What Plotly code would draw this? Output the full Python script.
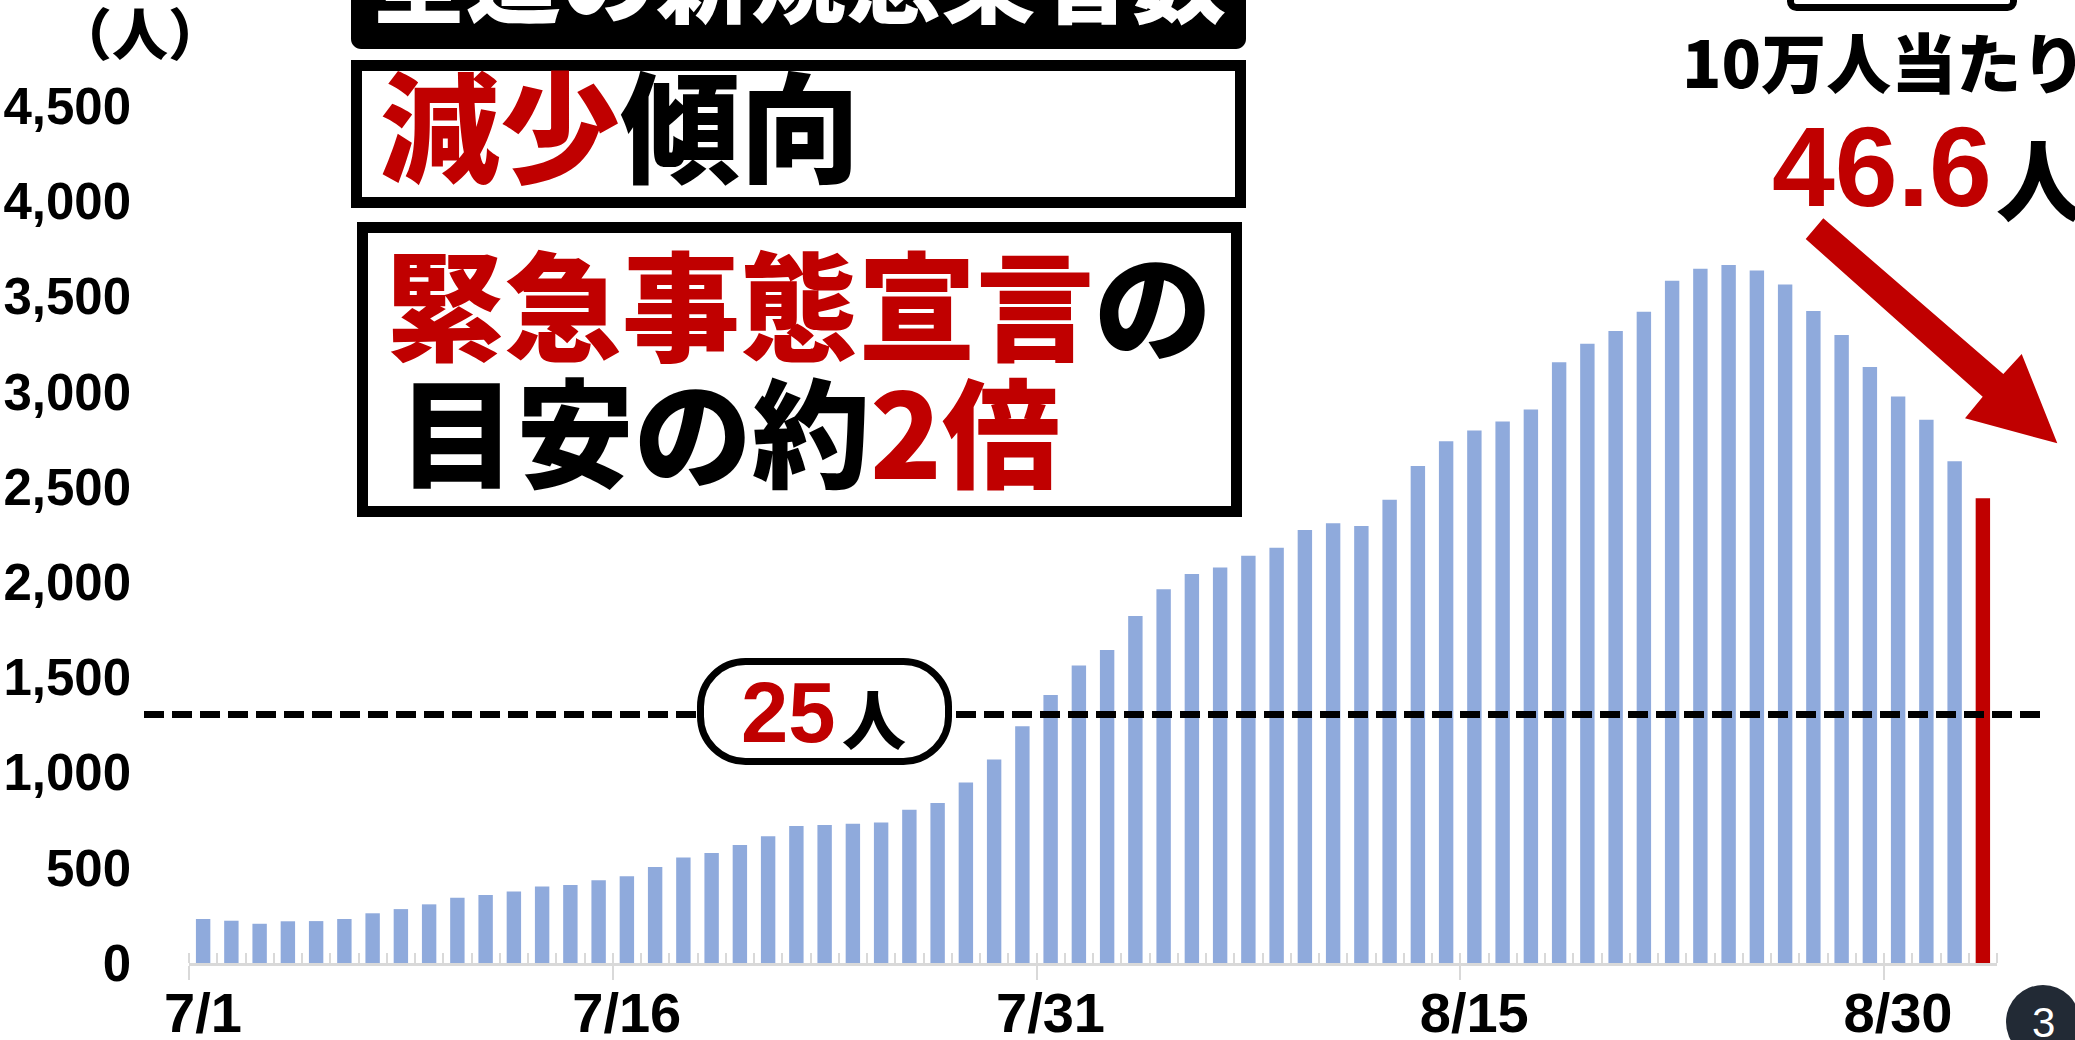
import pandas as pd
import plotly.graph_objects as go

# 全道の新規感染者数（直近1週間合計）7/1 - 9/2
START_DATE = '2021-07-01'
WEEKLY_CASES = [231, 222, 206, 219, 220, 231, 261, 283, 308, 343,
                357, 376, 402, 409, 434, 456, 504, 554, 577, 619,
                665, 719, 724, 731, 738, 805, 840, 948, 1069, 1243,
                1407, 1562, 1643, 1822, 1962, 2042, 2077, 2139, 2180, 2274,
                2309, 2295, 2433, 2610, 2739, 2796, 2844, 2906, 3154, 3251,
                3318, 3420, 3582, 3646, 3665, 3636, 3563, 3423, 3297, 3130,
                2974, 2852, 2634, 2441]
THRESHOLD = 1305  # 10万人当たり25人
Y_MAX = 4500
Y_TICKS = [0, 500, 1000, 1500, 2000, 2500, 3000, 3500, 4000, 4500]
Y_TICK_LABELS = ['0', '500', '1,000', '1,500', '2,000', '2,500', '3,000', '3,500', '4,000', '4,500']
X_TICK_DAYS = [0, 15, 30, 45, 60]
X_TICK_LABELS = ['7/1', '7/16', '7/31', '8/15', '8/30']

BAR_COLOR = '#8FAADC'
RED = '#C00000'
AXIS_GRAY = '#d9d9d9'
CJK = 'Noto Sans CJK JP'
LATIN = 'Liberation Sans'

W, H = 2075, 1040
L, R, T, B = 189, 1997, 106, 963


def px(x):
    return (x - L) / (R - L)


def py(y):
    return (B - y) / (B - T)


def rounded_rect(x0, y0, x1, y1, r):
    k = 0.5523 * r
    p = [f'M{px(x0 + r)},{py(y0)}',
         f'L{px(x1 - r)},{py(y0)}',
         f'C{px(x1 - r + k)},{py(y0)} {px(x1)},{py(y0 + r - k)} {px(x1)},{py(y0 + r)}',
         f'L{px(x1)},{py(y1 - r)}',
         f'C{px(x1)},{py(y1 - r + k)} {px(x1 - r + k)},{py(y1)} {px(x1 - r)},{py(y1)}',
         f'L{px(x0 + r)},{py(y1)}',
         f'C{px(x0 + r - k)},{py(y1)} {px(x0)},{py(y1 - r + k)} {px(x0)},{py(y1 - r)}',
         f'L{px(x0)},{py(y0 + r)}',
         f'C{px(x0)},{py(y0 + r - k)} {px(x0 + r - k)},{py(y0)} {px(x0 + r)},{py(y0)}',
         'Z']
    return ' '.join(p)


def polygon(points):
    return 'M' + ' L'.join(f'{px(x)},{py(y)}' for x, y in points) + ' Z'


def label(x, y, text, size, color='black', family=CJK, xanchor='center', weight=900):
    return dict(x=px(x), y=py(y), xref='paper', yref='paper', text=text, showarrow=False,
                xanchor=xanchor, yanchor='middle',
                font=dict(family=family, size=size, color=color, weight=weight))


dates = pd.date_range(START_DATE, periods=len(WEEKLY_CASES))
days = list(range(len(WEEKLY_CASES)))
colors = [BAR_COLOR] * (len(WEEKLY_CASES) - 1) + [RED]

fig = go.Figure()
fig.add_trace(go.Bar(x=days, y=WEEKLY_CASES, marker=dict(color=colors, line=dict(width=0)),
                     customdata=[f'{d.month}/{d.day}' for d in dates],
                     hovertemplate='%{customdata}: %{y:,}人<extra></extra>'))

shapes = [
    # 25人 line
    dict(type='line', xref='paper', yref='paper', x0=px(144), x1=px(2045),
         y0=THRESHOLD / Y_MAX, y1=THRESHOLD / Y_MAX,
         line=dict(color='black', width=7, dash='20px,8px')),
    dict(type='path', xref='paper', yref='paper', path=rounded_rect(700.5, 661.5, 948.5, 761.5, 45),
         fillcolor='white', line=dict(color='black', width=7)),
    # title box (cut off at top)
    dict(type='path', xref='paper', yref='paper', path=rounded_rect(351, -120, 1246, 49, 10),
         fillcolor='black', line=dict(width=0)),
    dict(type='rect', xref='paper', yref='paper', x0=px(356.5), x1=px(1240.5), y0=py(65.5), y1=py(202.5),
         fillcolor='white', line=dict(color='black', width=11)),
    dict(type='rect', xref='paper', yref='paper', x0=px(362.5), x1=px(1236.5), y0=py(227.5), y1=py(511.5),
         fillcolor='white', line=dict(color='black', width=11)),
    dict(type='path', xref='paper', yref='paper', path=rounded_rect(1790.5, -60, 2013.5, 7.5, 6),
         fillcolor='white', line=dict(color='black', width=7)),
    # red arrow
    dict(type='path', xref='paper', yref='paper',
         path=polygon([(1823.3, 218.3), (2003.3, 374), (2021.7, 354), (2057.3, 443.3),
                       (1965, 418.3), (1982.7, 396.7), (1805.7, 239)]),
         fillcolor=RED, line=dict(width=0)),
    dict(type='circle', xref='paper', yref='paper', x0=px(2006), x1=px(2080), y0=py(985), y1=py(1059),
         fillcolor='#222a35', line=dict(width=0)),
]

annotations = [
    label(140, 30, '（人）', 56),
    label(798.5, -26, '全道の新規感染者数', 95, color='white'),
    label(378, 122, f'<span style="color:{RED}">減少</span>傾向', 120, xanchor='left'),
    label(384, 300, f'<span style="color:{RED}">緊急事態宣言</span>の', 118, xanchor='left'),
    label(396, 428, f'目安の約<span style="color:{RED}">2倍</span>', 118, xanchor='left'),
    label(1884, 60, '10万人当たり', 65),
    label(1994, 167, '46.6', 113, color=RED, family=LATIN, xanchor='right', weight='bold'),
    label(1994, 175, '人', 88, xanchor='left'),
    label(838, 712, '25', 85, color=RED, family=LATIN, xanchor='right', weight='bold'),
    label(840, 716, '人', 64, xanchor='left'),
    label(2043, 1022, '3', 42, color='white', family=LATIN, weight='normal'),
]

fig.update_layout(
    width=W, height=H,
    margin=dict(l=L, r=W - R, t=T, b=H - B, pad=0, autoexpand=False),
    paper_bgcolor='white', plot_bgcolor='white',
    bargap=0.49, showlegend=False,
    shapes=shapes, annotations=annotations,
    xaxis=dict(range=[-0.5, len(WEEKLY_CASES) - 0.5], showgrid=False, zeroline=False,
               showline=True, linecolor=AXIS_GRAY, linewidth=3, automargin=False,
               tickmode='array', tickvals=[d - 0.5 for d in X_TICK_DAYS], ticktext=X_TICK_LABELS,
               ticks='outside', ticklen=14, tickwidth=2, tickcolor=AXIS_GRAY,
               ticklabelshift=14, ticklabelstandoff=-15,
               tickfont=dict(family=LATIN, size=56, color='black', weight='bold'),
               minor=dict(tickmode='linear', tick0=-0.5, dtick=1, ticks='inside', ticklen=10,
                          tickwidth=2, tickcolor=AXIS_GRAY)),
    yaxis=dict(range=[0, Y_MAX], showgrid=False, zeroline=False, showline=False, automargin=False,
               tickmode='array', tickvals=Y_TICKS, ticktext=Y_TICK_LABELS, ticks='',
               ticklabelstandoff=57,
               tickfont=dict(family=LATIN, size=51, color='black', weight='bold')),
)

fig.write_html('out.html', config={'displayModeBar': False},
               post_script="document.body.style.margin = '0';")
